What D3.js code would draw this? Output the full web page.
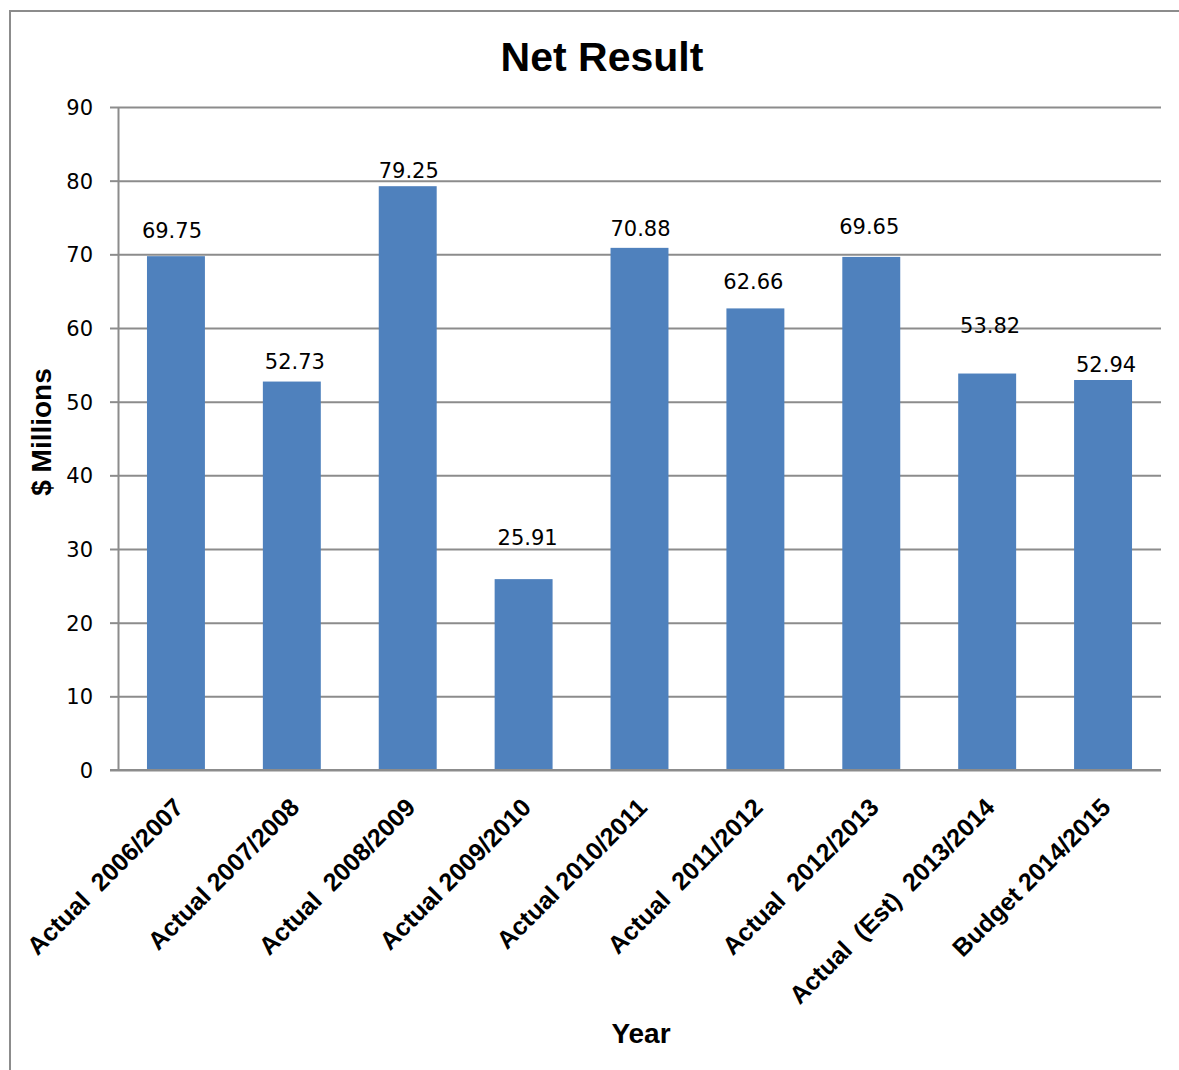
<!DOCTYPE html>
<html>
<head>
<meta charset="utf-8">
<script src="https://cdn.jsdelivr.net/npm/d3@7"></script>
<style>
  body { margin: 0; background: #fff; }
  svg { display: block; }
  .tick text { font-family: "DejaVu Sans", sans-serif; font-size: 21px; fill: #000; }
  .grid line { stroke: #8c8c8c; stroke-width: 2; }
  .axis path, .axis line { stroke: #8c8c8c; stroke-width: 2; }
  .val { font-family: "DejaVu Sans", sans-serif; font-size: 21px; fill: #000; text-anchor: middle; }
  .cat { font-family: "Liberation Sans", Arial, sans-serif; font-weight: bold; font-size: 25px; fill: #000; text-anchor: end; }
  .ttl { font-family: "Liberation Sans", Arial, sans-serif; font-weight: bold; fill: #000; text-anchor: middle; }
</style>
</head>
<body>
<div id="chart"></div>
<script>
// data
var categories = ["Actual  2006/2007", "Actual 2007/2008", "Actual  2008/2009", "Actual 2009/2010",
                  "Actual 2010/2011", "Actual  2011/2012", "Actual  2012/2013", "Actual  (Est)  2013/2014",
                  "Budget 2014/2015"];
var netResult = [69.75, 52.73, 79.25, 25.91, 70.88, 62.66, 69.65, 53.82, 52.94];
var yTicks = [0, 10, 20, 30, 40, 50, 60, 70, 80, 90];

// the value labels were nudged by hand in the original, keep that look
var labelLift = [26, 21, 16, 42, 20, 27, 31, 49, 16];
var labelShift = [-4, 3, 1, 4, 1, -2, -2, 3, 3];

var W = 1179, H = 1070;
var plot = {left: 118, right: 1161, top: 107, bottom: 770};

var svg = d3.select("#chart").append("svg")
    .attr("width", W)
    .attr("height", H);

// outer frame (only left and top show in the crop)
svg.append("path")
    .attr("d", "M10," + H + "V11H" + W)
    .attr("fill", "none")
    .attr("stroke", "#8c8c8c")
    .attr("stroke-width", 2);

var x = d3.scaleBand()
    .domain(categories)
    .range([plot.left, plot.right])
    .paddingInner(0.5)
    .paddingOuter(0.25);

var y = d3.scaleLinear()
    .domain([0, 90])
    .range([plot.bottom, plot.top]);

// gridlines
svg.append("g")
    .attr("class", "grid")
    .attr("transform", "translate(" + plot.left + ",0)")
    .call(d3.axisLeft(y).tickValues(yTicks).tickSize(-(plot.right - plot.left)).tickFormat(""))
    .call(g => g.select(".domain").remove());

// y axis
svg.append("g")
    .attr("class", "axis")
    .attr("transform", "translate(" + plot.left + ",0)")
    .call(d3.axisLeft(y).tickValues(yTicks).tickSize(8).tickSizeOuter(0).tickPadding(17))
    .call(g => g.selectAll(".tick text").attr("dy", "0.36em"));

// bars
svg.append("g").selectAll("rect")
    .data(netResult)
    .join("rect")
    .attr("x", (d, i) => x(categories[i]))
    .attr("y", d => y(d))
    .attr("width", x.bandwidth())
    .attr("height", d => y(0) - y(d))
    .attr("fill", "#4f81bd");

// x axis line
svg.append("line")
    .attr("x1", plot.left - 8)
    .attr("x2", plot.right)
    .attr("y1", y(0))
    .attr("y2", y(0))
    .attr("stroke", "#8c8c8c")
    .attr("stroke-width", 2);

// value labels
svg.append("g").selectAll("text")
    .data(netResult)
    .join("text")
    .attr("class", "val")
    .attr("x", (d, i) => x(categories[i]) + x.bandwidth() / 2 + labelShift[i])
    .attr("y", (d, i) => y(d) - labelLift[i] + 8)
    .text(d => d.toFixed(2));

// category labels, rotated
svg.append("g").selectAll("text")
    .data(categories)
    .join("text")
    .attr("class", "cat")
    .attr("transform", d => "translate(" + (x(d) + x.bandwidth() / 2 + 9) + "," + (y(0) + 39) + ") rotate(-45)")
    .style("white-space", "pre")
    .text(d => d);

// titles
svg.append("text")
    .attr("class", "ttl")
    .attr("x", 602)
    .attr("y", 71)
    .style("font-size", "41px")
    .text("Net Result");

svg.append("text")
    .attr("class", "ttl")
    .attr("transform", "translate(51,432) rotate(-90)")
    .style("font-size", "28px")
    .text("$ Millions");

svg.append("text")
    .attr("class", "ttl")
    .attr("x", 641)
    .attr("y", 1043)
    .style("font-size", "28px")
    .text("Year");
</script>
</body>
</html>
